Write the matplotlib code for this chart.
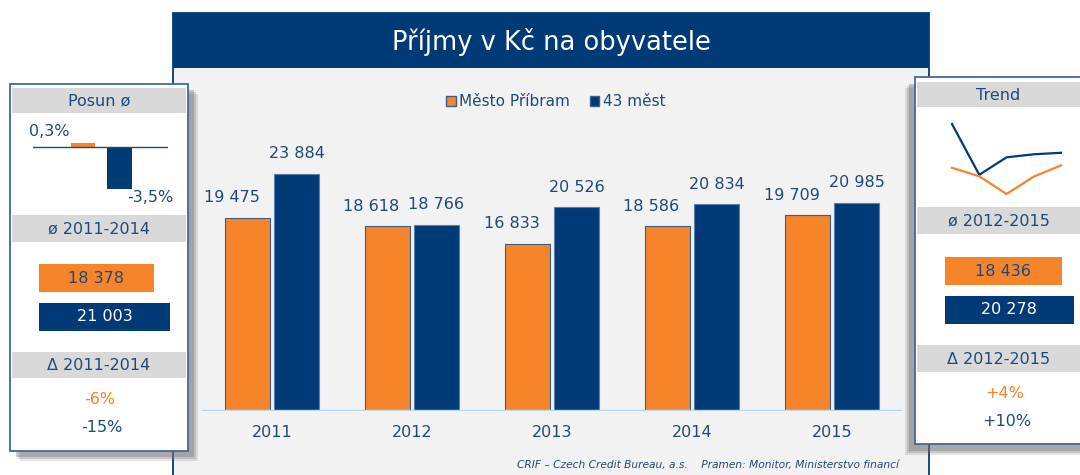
import matplotlib.pyplot as plt
import numpy as np
from matplotlib.patches import Rectangle, Patch

W, H = 1080, 475
ORANGE = '#F5842A'
NAVY = '#003B77'
TXT = '#1F497D'
HEAD = '#D9D9D9'
PANEL = '#F2F2F2'
EDGE = '#3A5F8A'

# data
roky = ['2011', '2012', '2013', '2014', '2015']
pribram = [19475, 18618, 16833, 18586, 19709]
mest43 = [23884, 18766, 20526, 20834, 20985]
serie = ['Město Příbram', '43 měst']

posun = [0.3, -3.5]
posun_txt = ['0,3%', '-3,5%']

prumer_11_14 = [18378, 21003]
prumer_12_15 = [18436, 20278]
delta_11_14 = ['-6%', '-15%']
delta_12_15 = ['+4%', '+10%']

plt.rcParams['font.family'] = 'DejaVu Sans'
fig = plt.figure(figsize=(10.8, 4.75), dpi=100)


def px_axes(x0, y0, x1, y1, z=1):
    # axes v pixelech od leveho horniho rohu
    a = fig.add_axes([x0 / W, 1 - y1 / H, (x1 - x0) / W, (y1 - y0) / H], zorder=z)
    a.patch.set_visible(False)
    return a


def cislo(v):
    return f'{v:,}'.replace(',', ' ')


bg = px_axes(0, 0, W, H, z=0)
bg.set_xlim(0, W)
bg.set_ylim(H, 0)
bg.axis('off')

# hlavni panel
bg.add_patch(Rectangle((173, 13), 756, 470, fc=PANEL, ec=NAVY, lw=1.3))
bg.add_patch(Rectangle((173, 13), 756, 55, fc=NAVY, ec='none'))
bg.text(551, 42, 'Příjmy v Kč na obyvatele', color='white', fontsize=18.5,
        ha='center', va='center')
bg.text(899, 465, 'CRIF – Czech Credit Bureau, a.s.    Pramen: Monitor, Ministerstvo financí',
        color=TXT, fontsize=7.7, style='italic', ha='right', va='center')


def bocni_panel(x0, y0, w, h, dx, dy):
    for k, a in [(1.0, 0.18), (0.8, 0.25), (0.6, 0.35)]:
        bg.add_patch(Rectangle((x0 + dx * k, y0 + dy * k), w, h, fc='#707070',
                               ec='none', alpha=a))
    bg.add_patch(Rectangle((x0, y0), w, h, fc='white', ec='#41699A', lw=1.3))


def hlavicka(x0, x1, y0, y1, text):
    bg.add_patch(Rectangle((x0, y0), x1 - x0, y1 - y0, fc=HEAD, ec='none'))
    bg.text((x0 + x1) / 2, (y0 + y1) / 2 + 0.5, text, color=TXT, fontsize=11.5,
            ha='center', va='center')


# levy panel
bocni_panel(10, 84, 178, 367, 10, 10)
hlavicka(12, 186, 88, 113, 'Posun ø')
hlavicka(12, 186, 215, 242, 'ø 2011-2014')
hlavicka(12, 186, 352, 378, 'Δ 2011-2014')
bg.text(100, 400, delta_11_14[0], color=ORANGE, fontsize=11.5, ha='center', va='center')
bg.text(102, 428, delta_11_14[1], color=TXT, fontsize=11.5, ha='center', va='center')

# pravy panel
bocni_panel(915, 77, 175, 367, -10, 11)
hlavicka(917, 1080, 82, 107, 'Trend')
hlavicka(917, 1080, 207, 234, 'ø 2012-2015')
hlavicka(917, 1080, 345, 372, 'Δ 2012-2015')
bg.text(1005, 393, delta_12_15[0], color=ORANGE, fontsize=11.5, ha='center', va='center')
bg.text(1007, 422, delta_12_15[1], color=TXT, fontsize=11.5, ha='center', va='center')

# hlavni graf
ax = px_axes(202, 133, 902, 411, z=2)
x = np.arange(len(roky))
ax.bar(x - 0.175, pribram, 0.32, color=ORANGE, ec=EDGE, lw=0.8, zorder=3)
ax.bar(x + 0.175, mest43, 0.32, color=NAVY, ec='#5A7FA8', lw=0.8, zorder=3)
for i in range(len(roky)):
    ax.annotate(cislo(pribram[i]), (x[i] - 0.175, pribram[i]), xytext=(-11.5, 14.5),
                textcoords='offset points', ha='center', va='center', color=TXT, fontsize=11.5)
    ax.annotate(cislo(mest43[i]), (x[i] + 0.175, mest43[i]), xytext=(0, 14.5),
                textcoords='offset points', ha='center', va='center', color=TXT, fontsize=11.5)
ax.axhline(0, color='#BCD6F2', lw=2.5, zorder=4)
ax.set_xlim(-0.5, 4.5)
ax.set_ylim(0, 28000)
ax.set_xticks(x, roky)
ax.set_yticks([])
ax.tick_params(length=0, pad=10, labelsize=11.5, labelcolor=TXT)
for s in ax.spines.values():
    s.set_visible(False)

fig.legend([Patch(fc=ORANGE, ec=EDGE), Patch(fc=NAVY, ec=EDGE)], serie,
           loc='center', bbox_to_anchor=(556 / W, 1 - 102 / H), ncol=2, frameon=False,
           handlelength=0.6, handleheight=0.6, handletextpad=0.25, columnspacing=1.3,
           fontsize=11, labelcolor=TXT)

# posun
ap = px_axes(33, 140, 168, 190, z=3)
ap.bar([0, 1], posun, 0.66, color=[ORANGE, NAVY])
ap.axhline(0, color=TXT, lw=1)
ap.set_xlim(-1.37, 2.33)
ap.set_ylim(-3.583, 0.583)
ap.annotate(posun_txt[0], (0, posun[0]), xytext=(-24, 8.5), textcoords='offset points',
            ha='center', va='center', color=TXT, fontsize=11.5)
ap.annotate(posun_txt[1], (1, posun[1]), xytext=(22, -6), textcoords='offset points',
            ha='center', va='center', color=TXT, fontsize=11.5)
ap.axis('off')


def pruhy(x0, x1, y0, y1, vals):
    a = px_axes(x0, y0, x1, y1, z=3)
    a.barh([1, 0], vals, 0.718, color=[ORANGE, NAVY])
    a.set_xlim(0, max(vals))
    a.set_ylim(-0.359, 1.359)
    a.text(vals[0] / 2, 1, cislo(vals[0]), color=TXT, fontsize=11.5, ha='center', va='center')
    a.text(vals[1] / 2, 0, cislo(vals[1]), color='white', fontsize=11.5, ha='center', va='center')
    a.axis('off')


pruhy(39, 170, 264, 331, prumer_11_14)
pruhy(944.5, 1073.5, 257, 324, prumer_12_15)

# trend
at = px_axes(952, 124, 1061, 194, z=3)
at.plot(range(len(roky)), mest43, color=NAVY, lw=1.6, clip_on=False)
at.plot(range(len(roky)), pribram, color=ORANGE, lw=1.6, clip_on=False)
at.set_xlim(0, len(roky) - 1)
at.set_ylim(min(pribram), max(mest43))
at.axis('off')

fig.savefig('out.png', dpi=100)
